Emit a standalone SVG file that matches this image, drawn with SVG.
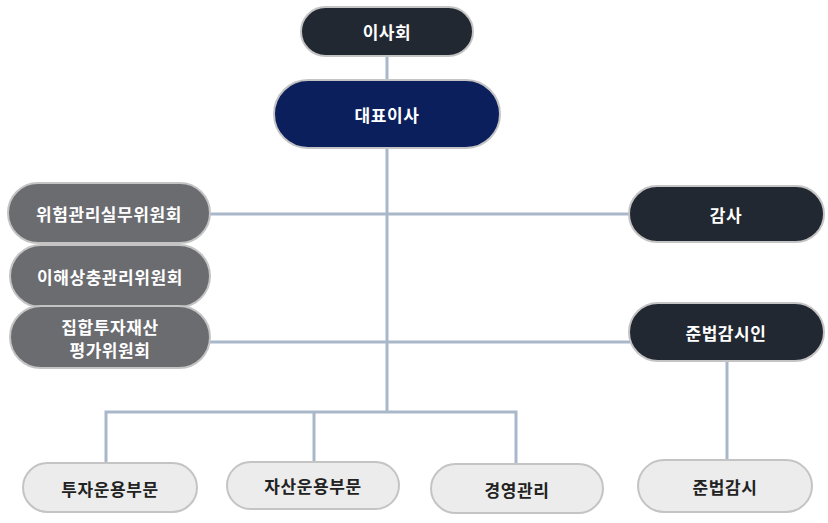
<svg xmlns="http://www.w3.org/2000/svg" width="828" height="523" viewBox="0 0 828 523">
<style>
.n rect{stroke:#c4c4c4;stroke-width:2}
.dark rect{fill:#222831}
.navy rect{fill:#0b1f5c}
.gray rect{fill:#6b6c70}
.light rect{fill:#ececec}
text{font-family:"Noto Sans CJK KR","Noto Sans",sans-serif;font-weight:bold;font-size:17px;letter-spacing:0.6px;text-anchor:middle;dominant-baseline:central}
.dark text,.navy text,.gray text{fill:#ffffff}
.light text{fill:#222222}
#connectors path{fill:none;stroke:#a9b7cb;stroke-width:3}
</style>
<rect width="828" height="523" fill="#ffffff"/>
<g id="connectors">
<path d="M387 56V412"/>
<path d="M210 214H630"/>
<path d="M210 342H630"/>
<path d="M727 361V460"/>
<path d="M106 463V412H516V465"/>
<path d="M314 412V462"/>
</g>
<g id="board" class="n dark"><rect x="301" y="7" width="172" height="49" rx="24.5"/><text x="387" y="31">이사회</text></g>
<g id="ceo" class="n navy"><rect x="274" y="80" width="226" height="68" rx="34"/><text x="387" y="114">대표이사</text></g>
<g id="risk" class="n gray"><rect x="8" y="183" width="202" height="60" rx="30"/><text x="109" y="213">위험관리실무위원회</text></g>
<g id="conflict" class="n gray"><rect x="10" y="245" width="200" height="62" rx="31"/><text x="110" y="276">이해상충관리위원회</text></g>
<g id="valuation" class="n gray"><rect x="10" y="306" width="200" height="62" rx="31"/><text x="110" y="326">집합투자재산</text><text x="110" y="349">평가위원회</text></g>
<g id="audit" class="n dark"><rect x="629" y="186" width="195" height="56" rx="28"/><text x="726" y="214">감사</text></g>
<g id="compliance-officer" class="n dark"><rect x="629" y="303" width="195" height="58" rx="29"/><text x="726" y="332">준법감시인</text></g>
<g id="invest" class="n light"><rect x="23" y="463" width="174" height="49" rx="24.5"/><text x="110" y="488">투자운용부문</text></g>
<g id="asset" class="n light"><rect x="227" y="462" width="172" height="47" rx="23.5"/><text x="313" y="485">자산운용부문</text></g>
<g id="mgmt" class="n light"><rect x="431" y="464" width="172" height="49" rx="24.5"/><text x="517" y="489">경영관리</text></g>
<g id="compliance" class="n light"><rect x="638" y="460" width="174" height="52" rx="26"/><text x="725" y="486">준법감시</text></g>
</svg>
